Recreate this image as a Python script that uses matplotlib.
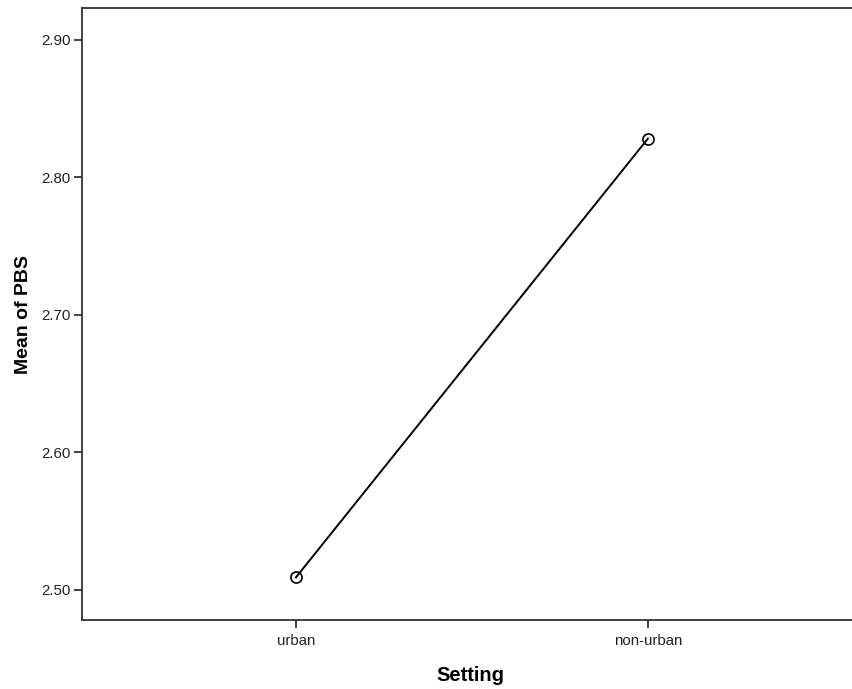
import matplotlib
matplotlib.use("Agg")
import matplotlib.pyplot as plt

# Mean PBS score by setting
settings = ["urban", "non-urban"]
mean_pbs = [2.509, 2.828]
y_ticks = [2.50, 2.60, 2.70, 2.80, 2.90]

plt.rcParams["font.family"] = ["Liberation Sans", "DejaVu Sans"]

fig = plt.figure(figsize=(8.52, 6.89), dpi=100)
ax = fig.add_axes([0.0962, 0.1001, 0.9038, 0.8883])

x = list(range(len(settings)))
ax.plot(x, mean_pbs, color="black", linewidth=1.4,
        marker="o", markersize=8, markerfacecolor="none",
        markeredgecolor="black", markeredgewidth=1.2)

ax.set_xlim(-0.608, 1.58)
ax.set_ylim(2.478, 2.923)
ax.set_xticks(x)
ax.set_xticklabels(settings, fontsize=10.8)
ax.set_yticks(y_ticks)
ax.set_yticklabels([f"{v:.2f}" for v in y_ticks], fontsize=10.8)

for side in ("left", "bottom", "top"):
    ax.spines[side].set_color("#333333")
    ax.spines[side].set_linewidth(1.3)
ax.spines["right"].set_visible(False)

ax.tick_params(axis="both", direction="out", length=6, width=1.3,
               color="#333333", labelcolor="#222222")
ax.tick_params(axis="y", pad=2)
ax.tick_params(axis="x", pad=4)

ax.set_ylabel("Mean of PBS", fontsize=14, fontweight="bold")
ax.yaxis.set_label_coords(-0.065, 0.5)
ax.set_xlabel("Setting", fontsize=14.5, fontweight="bold")
ax.xaxis.set_label_coords(0.505, -0.075)

fig.savefig("out.png", dpi=100)
